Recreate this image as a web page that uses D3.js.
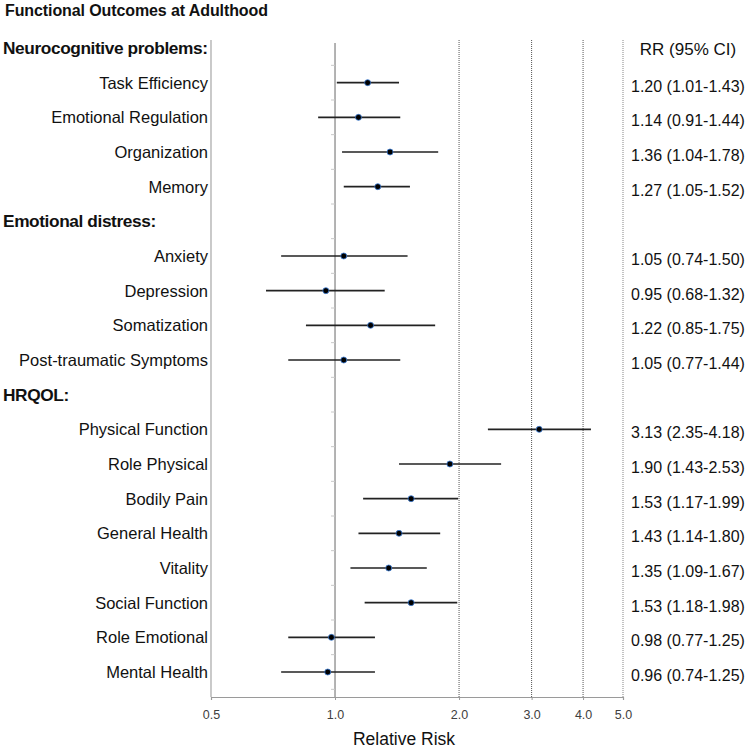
<!DOCTYPE html>
<html>
<head>
<meta charset="utf-8">
<script src="https://cdn.jsdelivr.net/npm/d3@7"></script>
<style>
  body { margin: 0; background: #fff; }
  svg { font-family: "Liberation Sans", Arial, sans-serif; }
</style>
</head>
<body>
<svg id="forest" width="750" height="748"></svg>
<script>
// data
const groups = ["Neurocognitive problems:", "Emotional distress:", "HRQOL:"];
const outcomes = ["Task Efficiency", "Emotional Regulation", "Organization", "Memory",
  "Anxiety", "Depression", "Somatization", "Post-traumatic Symptoms",
  "Physical Function", "Role Physical", "Bodily Pain", "General Health",
  "Vitality", "Social Function", "Role Emotional", "Mental Health"];
const outcomeGroup = [0, 0, 0, 0, 1, 1, 1, 1, 2, 2, 2, 2, 2, 2, 2, 2];
const rr    = [1.20, 1.14, 1.36, 1.27, 1.05, 0.95, 1.22, 1.05, 3.13, 1.90, 1.53, 1.43, 1.35, 1.53, 0.98, 0.96];
const lower = [1.01, 0.91, 1.04, 1.05, 0.74, 0.68, 0.85, 0.77, 2.35, 1.43, 1.17, 1.14, 1.09, 1.18, 0.77, 0.74];
const upper = [1.43, 1.44, 1.78, 1.52, 1.50, 1.32, 1.75, 1.44, 4.18, 2.53, 1.99, 1.80, 1.67, 1.98, 1.25, 1.25];
const xTicks = [0.5, 1, 2, 3, 4, 5];
const gridTicks = [2, 3, 4];

const svg = d3.select("svg#forest");
const plotLeft = 211, plotRight = 623;
const plotTop = 40, axisY = 697;

// build row list: header then its outcomes
let rows = [];
groups.forEach((g, gi) => {
  rows.push({ header: true, label: g });
  outcomes.forEach((o, i) => {
    if (outcomeGroup[i] == gi) rows.push({ header: false, label: o, rr: rr[i], lo: lower[i], hi: upper[i] });
  });
});

const x = d3.scaleLog().domain([0.5, 5]).range([plotLeft, plotRight]);
const y = d3.scalePoint().domain(d3.range(rows.length)).range([48, 672]);
const step = y.step();

// title
svg.append("text")
  .text("Functional Outcomes at Adulthood")
  .attr("x", 5).attr("y", 16)
  .attr("font-size", 16).attr("font-weight", "bold")
  .attr("letter-spacing", -0.1)
  .attr("fill", "#111");

// frame lines
svg.append("line")
  .attr("x1", x(0.5)).attr("x2", x(0.5))
  .attr("y1", plotTop).attr("y2", axisY)
  .attr("stroke", "#a6a6a6").attr("stroke-width", 1.2);
svg.append("line")
  .attr("x1", x(5)).attr("x2", x(5))
  .attr("y1", plotTop).attr("y2", axisY)
  .attr("stroke", "#9a9a9a").attr("stroke-width", 1.2)
  .attr("stroke-dasharray", "1,1");

// dotted grid at 2, 3, 4
svg.selectAll("line.grid").data(gridTicks).join("line")
  .attr("class", "grid")
  .attr("x1", d => x(d)).attr("x2", d => x(d))
  .attr("y1", plotTop).attr("y2", axisY)
  .attr("stroke", "#555").attr("stroke-width", 1)
  .attr("stroke-dasharray", "1,1");

// reference line at 1
svg.append("line")
  .attr("x1", x(1)).attr("x2", x(1))
  .attr("y1", plotTop + 3).attr("y2", axisY)
  .attr("stroke", "#9a9a9a").attr("stroke-width", 1.5);

// small ticks on reference line between rows
svg.selectAll("line.minor").data(d3.range(rows.length)).join("line")
  .attr("class", "minor")
  .attr("x1", x(1) - 4).attr("x2", x(1))
  .attr("y1", d => y(d) + step / 2).attr("y2", d => y(d) + step / 2)
  .attr("stroke", "#c8c8c8").attr("stroke-width", 1);

// bottom axis
let bottomAxis = d3.axisBottom(x)
  .tickValues(xTicks)
  .tickFormat(d3.format(".1f"))
  .tickSize(3)
  .tickPadding(10);
let axisG = svg.append("g")
  .attr("transform", "translate(0," + axisY + ")")
  .call(bottomAxis);
axisG.select(".domain").attr("stroke", "#9a9a9a").attr("stroke-width", 1.2);
axisG.selectAll(".tick line").attr("stroke", "#9a9a9a");
axisG.selectAll(".tick text")
  .attr("font-size", 12.5)
  .attr("font-family", "Liberation Sans, Arial, sans-serif")
  .attr("fill", "#404040");

svg.append("text")
  .text("Relative Risk")
  .attr("x", 404).attr("y", 745)
  .attr("text-anchor", "middle")
  .attr("font-size", 17.5)
  .attr("fill", "#111");

// column header
svg.append("text")
  .text("RR (95% CI)")
  .attr("x", 688).attr("y", y(0) + 7)
  .attr("text-anchor", "middle")
  .attr("font-size", 17)
  .attr("fill", "#111");

// row labels
rows.forEach((r, i) => {
  if (r.header) {
    svg.append("text")
      .text(r.label)
      .attr("x", 3).attr("y", y(i) + 6)
      .attr("font-size", 17.3).attr("font-weight", "bold")
      .attr("letter-spacing", -0.4)
      .attr("fill", "#111");
  } else {
    svg.append("text")
      .text(r.label)
      .attr("x", 208).attr("y", y(i) + 6)
      .attr("text-anchor", "end")
      .attr("font-size", 16.5)
      .attr("fill", "#111");

    // confidence interval
    svg.append("line")
      .attr("x1", x(r.lo)).attr("x2", x(r.hi))
      .attr("y1", y(i)).attr("y2", y(i))
      .attr("stroke", "#222").attr("stroke-width", 1.6);
    // point estimate
    svg.append("circle")
      .attr("cx", x(r.rr)).attr("cy", y(i))
      .attr("r", 3)
      .attr("fill", "#000")
      .attr("stroke", "#3b7dd8").attr("stroke-width", 0.8);

    // value text
    svg.append("text")
      .text(r.rr.toFixed(2) + " (" + r.lo.toFixed(2) + "-" + r.hi.toFixed(2) + ")")
      .attr("x", 631).attr("y", y(i) + 9)
      .attr("font-size", 16)
      .attr("fill", "#111");
  }
});
</script>
</body>
</html>
